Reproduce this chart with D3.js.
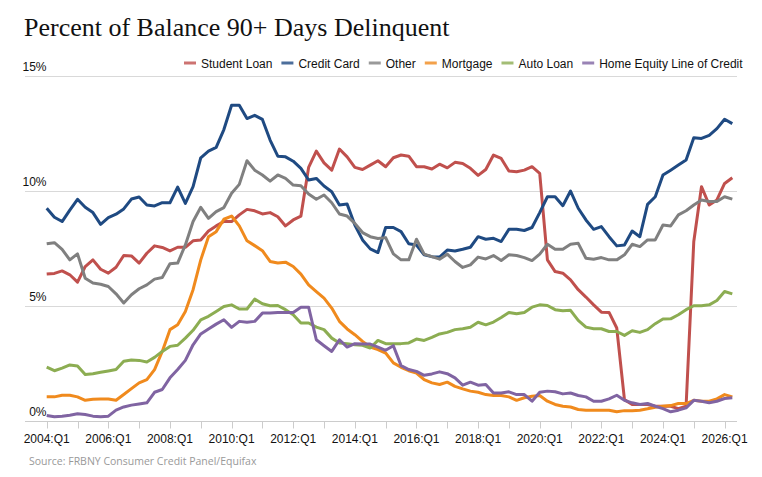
<!DOCTYPE html>
<html>
<head>
<meta charset="utf-8">
<script src="https://cdn.jsdelivr.net/npm/d3@7"></script>
<style>
  body { margin: 0; background: #fff; }
  svg { display: block; }
</style>
</head>
<body>
<div id="chart"></div>
<script>
// quarters 2004:Q1 .. 2026:Q2
const quarters = d3.range(2004, 2027).flatMap(y => [1, 2, 3, 4].map(q => `${y}:Q${q}`)).slice(0, 90);
const tickLabels = ["2004:Q1", "2006:Q1", "2008:Q1", "2010:Q1", "2012:Q1", "2014:Q1",
  "2016:Q1", "2018:Q1", "2020:Q1", "2022:Q1", "2024:Q1", "2026:Q1"];
const yTicks = [0, 5, 10, 15];

const studentLoan = [6.38, 6.41, 6.52, 6.35, 6.03, 6.71, 7.0, 6.59, 6.42, 6.68, 7.19, 7.17, 6.86, 7.29, 7.61, 7.54, 7.39, 7.55, 7.55, 7.83, 7.87, 8.26, 8.48, 8.67, 8.67, 8.96, 9.2, 9.14, 9.0,
  9.06, 8.88, 8.48, 8.74, 8.91, 11.03, 11.74, 11.23, 10.91, 11.83, 11.49, 11.03, 10.94, 11.13, 11.32, 11.06, 11.45, 11.57, 11.52, 11.06, 11.06, 10.96, 11.17, 11.01, 11.25, 11.2, 10.99, 10.68, 10.94, 11.57,
  11.42, 10.87, 10.84, 10.91, 11.06, 10.77, 7.0, 6.49, 6.42, 6.13, 5.7, 5.38, 5.04, 4.72, 4.71, 4.03, 0.91, 0.7, 0.7, 0.7, 0.62, 0.62, 0.62, 0.52, 0.62, 7.8, 10.19, 9.39, 9.61, 10.33, 10.58];
const creditCard = [9.25, 8.86, 8.67, 9.17, 9.64, 9.29, 9.06, 8.55, 8.84, 8.99, 9.22, 9.65, 9.74, 9.39, 9.35, 9.49, 9.49, 10.17, 9.46, 10.19, 11.45, 11.74, 11.9, 12.68, 13.74, 13.74, 13.16, 13.3, 13.12,
  12.22, 11.52, 11.49, 11.3, 10.99, 10.48, 10.55, 10.22, 9.97, 9.39, 9.43, 8.52, 7.87, 7.48, 7.32, 8.41, 8.41, 8.23, 7.7, 7.65, 7.22, 7.14, 7.12, 7.43, 7.39, 7.46, 7.55, 8.01, 7.9, 7.94,
  7.8, 8.33, 8.33, 8.28, 8.41, 9.06, 9.75, 9.75, 9.36, 10.0, 9.25, 8.74, 8.33, 8.45, 8.01, 7.61, 7.65, 8.26, 8.01, 9.42, 9.75, 10.7, 10.91, 11.13, 11.35, 12.32, 12.29, 12.43, 12.72, 13.13, 12.94];
const other = [7.7, 7.75, 7.46, 7.0, 7.26, 6.2, 5.99, 5.94, 5.84, 5.52, 5.12, 5.48, 5.74, 5.91, 6.16, 6.23, 6.83, 6.86, 7.65, 8.67, 9.29, 8.81, 9.1, 9.28, 9.9, 10.29, 11.32, 10.91, 10.7,
  10.43, 10.7, 10.55, 10.26, 10.23, 9.87, 9.64, 9.83, 9.49, 9.0, 8.91, 8.59, 8.19, 8.01, 7.93, 7.97, 7.26, 7.0, 7.0, 7.9, 7.25, 7.14, 7.03, 7.25, 6.93, 6.67, 6.78, 7.12, 7.04, 7.19,
  6.97, 7.22, 7.19, 7.1, 6.97, 7.25, 7.68, 7.46, 7.46, 7.68, 7.72, 7.07, 7.03, 7.1, 7.0, 7.0, 7.22, 7.68, 7.58, 7.87, 7.87, 8.52, 8.48, 8.96, 9.14, 9.39, 9.61, 9.54, 9.54, 9.75, 9.65];
const mortgage = [1.03, 1.03, 1.1, 1.1, 1.03, 0.88, 0.93, 0.94, 0.94, 0.88, 1.13, 1.39, 1.64, 1.78, 2.22, 3.01, 3.96, 4.17, 4.75, 5.7, 7.0, 8.01, 8.23, 8.77, 8.91, 8.48, 7.83, 7.62, 7.4,
  6.93, 6.86, 6.9, 6.71, 6.38, 5.91, 5.62, 5.33, 4.9, 4.32, 3.99, 3.74, 3.45, 3.2, 3.09, 2.94, 2.51, 2.32, 2.17, 2.07, 1.78, 1.64, 1.57, 1.67, 1.49, 1.38, 1.28, 1.23, 1.13, 1.09,
  1.09, 1.03, 0.88, 0.99, 1.06, 1.09, 0.84, 0.7, 0.62, 0.59, 0.48, 0.45, 0.45, 0.45, 0.45, 0.38, 0.43, 0.43, 0.45, 0.51, 0.58, 0.62, 0.65, 0.74, 0.74, 0.88, 0.84, 0.84, 0.94, 1.13, 1.03];
const autoLoan = [2.33, 2.17, 2.28, 2.42, 2.38, 2.0, 2.04, 2.1, 2.16, 2.22, 2.58, 2.64, 2.62, 2.55, 2.75, 3.01, 3.23, 3.28, 3.59, 3.93, 4.39, 4.54, 4.75, 4.97, 5.04, 4.86, 4.86, 5.29, 5.09,
  5.0, 5.01, 4.83, 4.61, 4.25, 4.25, 4.07, 3.96, 3.59, 3.38, 3.35, 3.3, 3.28, 3.16, 3.49, 3.35, 3.35, 3.35, 3.38, 3.55, 3.49, 3.62, 3.77, 3.84, 3.96, 4.0, 4.06, 4.28, 4.17, 4.29,
  4.49, 4.71, 4.65, 4.71, 4.94, 5.04, 5.01, 4.83, 4.78, 4.8, 4.36, 4.07, 4.0, 4.0, 3.88, 3.88, 3.71, 3.91, 3.84, 3.96, 4.22, 4.42, 4.43, 4.61, 4.83, 5.0, 5.0, 5.04, 5.23, 5.62, 5.52];
const heloc = [0.22, 0.16, 0.19, 0.23, 0.29, 0.26, 0.19, 0.16, 0.19, 0.45, 0.59, 0.67, 0.72, 0.77, 1.23, 1.35, 1.86, 2.22, 2.62, 3.3, 3.77, 3.99, 4.2, 4.39, 4.06, 4.32, 4.28, 4.32, 4.68,
  4.68, 4.71, 4.71, 4.71, 4.94, 4.94, 3.52, 3.26, 3.01, 3.52, 3.2, 3.35, 3.33, 3.33, 3.2, 3.06, 3.26, 2.39, 2.22, 2.14, 1.97, 2.03, 2.12, 2.04, 1.86, 1.54, 1.67, 1.54, 1.57, 1.2,
  1.2, 1.25, 1.13, 1.13, 0.84, 1.23, 1.28, 1.25, 1.16, 1.2, 1.09, 1.03, 0.84, 0.84, 0.94, 1.1, 0.88, 0.77, 0.7, 0.74, 0.62, 0.52, 0.38, 0.45, 0.55, 0.88, 0.84, 0.77, 0.84, 0.96, 0.99];

const seriesNames = ["Student Loan", "Credit Card", "Other", "Mortgage", "Auto Loan", "Home Equity Line of Credit"];
const seriesValues = [studentLoan, creditCard, other, mortgage, autoLoan, heloc];
const colors = ["#c0504d", "#1f4a82", "#808080", "#f08a1d", "#8cad52", "#8064a2"];

const width = 762, height = 477;
const svg = d3.select("#chart").append("svg")
  .attr("width", width)
  .attr("height", height);

const x = d3.scalePoint().domain(quarters).range([46.7, 732.3]);
const y = d3.scaleLinear().domain([0, 15]).range([420.5, 76.3]);

// title
svg.append("text")
  .attr("x", 24)
  .attr("y", 36)
  .style("font-family", "'Liberation Serif', 'DejaVu Serif', serif")
  .style("font-size", "26px")
  .style("fill", "#111")
  .text("Percent of Balance 90+ Days Delinquent");

// gridlines
svg.append("g")
  .selectAll("line")
  .data(yTicks.filter(d => d > 0))
  .join("line")
  .attr("x1", 25).attr("x2", 737)
  .attr("y1", d => Math.round(y(d)) + 0.5)
  .attr("y2", d => Math.round(y(d)) + 0.5)
  .attr("stroke", "#d9d9d9");

// y labels
svg.append("g")
  .selectAll("text")
  .data(yTicks)
  .join("text")
  .attr("x", 46.5)
  .attr("y", d => y(d) - 5)
  .attr("text-anchor", "end")
  .style("font-family", "'Liberation Sans', Arial, sans-serif")
  .style("font-size", "12px")
  .style("fill", "#111")
  .text(d => d + "%");

// x axis
const xAxis = svg.append("g")
  .attr("transform", `translate(0, ${Math.round(y(0)) + 0.5})`);
xAxis.append("line")
  .attr("x1", 25).attr("x2", 737)
  .attr("stroke", "#ccc");
const yearTicks = quarters.filter(q => q.endsWith("Q1"));
xAxis.selectAll("line.tick")
  .data(yearTicks)
  .join("line")
  .attr("class", "tick")
  .attr("x1", d => Math.round(x(d)) + 0.5)
  .attr("x2", d => Math.round(x(d)) + 0.5)
  .attr("y1", 0).attr("y2", 7)
  .attr("stroke", "#ccc");
xAxis.selectAll("text")
  .data(tickLabels)
  .join("text")
  .attr("x", d => x(d))
  .attr("y", 21)
  .attr("text-anchor", "middle")
  .style("font-family", "'Liberation Sans', Arial, sans-serif")
  .style("font-size", "12px")
  .style("fill", "#111")
  .text(d => d);

// lines
const line = d3.line()
  .x((d, i) => x(quarters[i]))
  .y(d => y(d));

svg.append("g")
  .selectAll("path")
  .data(seriesValues)
  .join("path")
  .attr("d", line)
  .attr("fill", "none")
  .attr("stroke", (d, i) => colors[i])
  .attr("stroke-width", 3)
  .attr("stroke-linejoin", "round");

// legend
const legend = svg.append("g").attr("transform", "translate(184, 63)");
let lx = 0;
seriesNames.forEach((name, i) => {
  legend.append("line")
    .attr("x1", lx).attr("x2", lx + 12)
    .attr("y1", 0).attr("y2", 0)
    .attr("stroke", colors[i])
    .attr("stroke-opacity", 0.8)
    .attr("stroke-width", 3);
  const t = legend.append("text")
    .attr("x", lx + 17)
    .attr("y", 4.5)
    .style("font-family", "'Liberation Sans', Arial, sans-serif")
    .style("font-size", "12px")
    .style("fill", "#111")
    .text(name);
  lx += 17 + t.node().getComputedTextLength() + 9;
});

// source
svg.append("text")
  .attr("x", 29)
  .attr("y", 465)
  .style("font-family", "'Open Sans', sans-serif")
  .style("font-size", "10.5px")
  .style("fill", "#999")
  .text("Source: FRBNY Consumer Credit Panel/Equifax");
</script>
</body>
</html>
